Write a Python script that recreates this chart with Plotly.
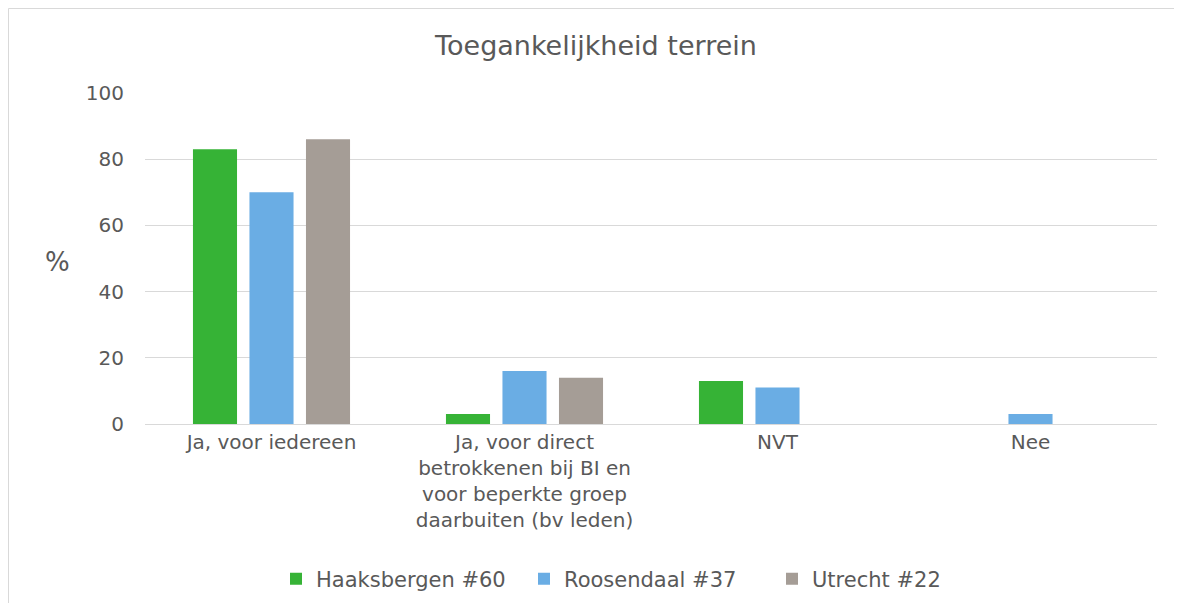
import plotly.graph_objects as go

categories = [
    "Ja, voor iedereen",
    "Ja, voor direct<br>betrokkenen bij BI en<br>voor beperkte groep<br>daarbuiten (bv leden)",
    "NVT",
    "Nee",
]
haaksbergen = [83, 3, 13, 0]
roosendaal = [70, 16, 11, 3]
utrecht = [86, 14, 0, 0]
series_names = ["Haaksbergen #60", "Roosendaal #37", "Utrecht #22"]
colors = ["#36b336", "#6aade4", "#a59d96"]
y_ticks = [0, 20, 40, 60, 80, 100]

OFF = 8  # page body margin
W, H = 1182 - 2 * OFF, 611 - 2 * OFF
# target plot area in screen pixels: x 145..1157, y 93..424
L = 145 - OFF
T = 93 - OFF
R = W - (1157 - OFF)
B = H - (424 - OFF)
pw, ph = W - L - R, H - T - B

def sx(x):
    return (x - OFF - L) / pw

def sy(y):
    return (H - B - (y - OFF)) / ph

FONT = "DejaVu Sans, Verdana, sans-serif"
TXT = "#595959"

fig = go.Figure()
for name, vals, c in zip(series_names, [haaksbergen, roosendaal, utrecht], colors):
    fig.add_trace(go.Bar(x=categories, y=vals, name=name,
                         marker=dict(color=c, line=dict(width=0))))

fig.update_layout(
    width=W, height=H,
    margin=dict(l=L, r=R, t=T, b=B, autoexpand=False),
    paper_bgcolor="white", plot_bgcolor="white",
    barmode="group", bargap=0.33, bargroupgap=0.22,
    font=dict(family=FONT, size=20, color=TXT),
    title=dict(text="Toegankelijkheid terrein", x=(596 - OFF) / W, xanchor="center",
               y=1 - (46 - OFF) / H, yanchor="middle",
               font=dict(family=FONT, size=27, color=TXT)),
    showlegend=True,
    legend=dict(orientation="h", x=sx(648), xanchor="center",
                y=sy(579), yanchor="middle",
                font=dict(family=FONT, size=21, color=TXT),
                itemwidth=30, entrywidth=203, traceorder="normal"),
    xaxis=dict(showgrid=False, showline=True, linecolor="#d9d9d9", linewidth=1,
               ticks="", tickfont=dict(family=FONT, size=20, color=TXT)),
    yaxis=dict(range=[0, 100], tickvals=y_ticks, showgrid=True, gridcolor="#d9d9d9",
               gridwidth=1, zeroline=False, showline=False, ticks="",
               ticklabelstandoff=20,
               tickfont=dict(family=FONT, size=20, color=TXT)),
)

fig.add_annotation(text="%", xref="paper", yref="paper",
                   x=sx(57), y=sy(262),
                   showarrow=False, xanchor="center", yanchor="middle",
                   font=dict(family=FONT, size=26, color=TXT))

# outer chart border (left and top edges visible in the reference)
border = dict(color="#d9d9d9", width=1)
fig.add_shape(type="line", xref="paper", yref="paper",
              x0=sx(OFF + 0.5), x1=sx(OFF + 0.5), y0=sy(OFF + 0.5), y1=sy(611),
              line=border, layer="below")
fig.add_shape(type="line", xref="paper", yref="paper",
              x0=sx(OFF + 0.5), x1=sx(1182), y0=sy(OFF + 0.5), y1=sy(OFF + 0.5),
              line=border, layer="below")

fig.write_html("out.html")
